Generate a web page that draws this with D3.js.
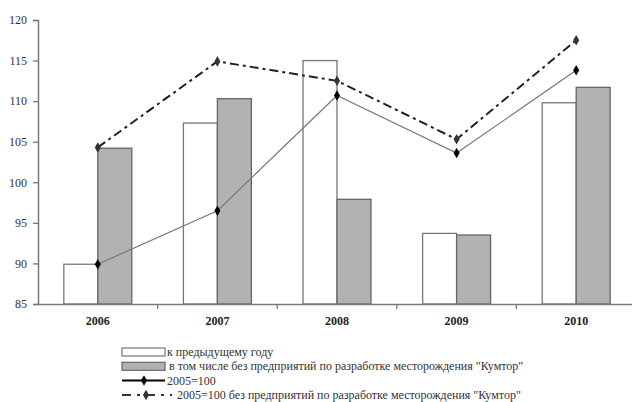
<!DOCTYPE html>
<html>
<head>
<meta charset="utf-8">
<script src="https://cdn.jsdelivr.net/npm/d3@7"></script>
<style>
  body { margin: 0; background: #fff; }
</style>
</head>
<body>
<div id="chart"></div>
<script>
const years = ['2006', '2007', '2008', '2009', '2010'];
const prevYear = [89.9, 107.3, 115.0, 93.7, 109.8];
const prevYearExKumtor = [104.2, 110.3, 97.9, 93.5, 111.7];
const base2005 = [89.9, 96.5, 110.7, 103.6, 113.8];
const base2005ExKumtor = [104.3, 114.9, 112.5, 105.3, 117.5];
const yTicks = [85, 90, 95, 100, 105, 110, 115, 120];
const legendLabels = [
  'к предыдущему году',
  'в том числе без предприятий по разработке месторождения "Кумтор"',
  '2005=100',
  '2005=100 без предприятий по разработке месторождения "Кумтор"'
];

const FONT = '"Times New Roman", "Liberation Serif", "DejaVu Serif", serif';
const width = 632;
const height = 402;
const margin = { top: 20, right: -4, bottom: 98, left: 38 };

const svg = d3.select('#chart')
  .append('svg')
  .attr('width', width)
  .attr('height', height)
  .style('font-family', FONT);

const x = d3.scaleBand().domain(years).range([margin.left, width - margin.right]).padding(0);
const x1 = d3.scaleBand().domain(['a', 'b']).range([0, x.bandwidth()]).paddingInner(0).paddingOuter(0.76);
const y = d3.scaleLinear().domain([85, 120]).range([height - margin.bottom, margin.top]);

const barData = years.map((yr, i) => ({ yr, a: prevYear[i], b: prevYearExKumtor[i] }));

// bars
const groups = svg.append('g').selectAll('g').data(barData).join('g')
  .attr('transform', d => `translate(${x(d.yr)},0)`);

groups.append('rect')
  .attr('x', x1('a'))
  .attr('y', d => y(d.a))
  .attr('width', x1.bandwidth())
  .attr('height', d => y(85) - y(d.a))
  .attr('fill', '#fff')
  .attr('stroke', '#777')
  .attr('stroke-width', 1.3);

groups.append('rect')
  .attr('x', x1('b'))
  .attr('y', d => y(d.b))
  .attr('width', x1.bandwidth())
  .attr('height', d => y(85) - y(d.b))
  .attr('fill', '#b2b2b2')
  .attr('stroke', '#666')
  .attr('stroke-width', 1.3);

// axes
const yAxis = g => g
  .attr('transform', `translate(${margin.left},0)`)
  .call(d3.axisLeft(y).tickValues(yTicks).tickSize(5).tickPadding(6))
  .attr('font-family', null)
  .attr('font-size', 12)
  .call(g => g.select('.domain').attr('stroke', '#777').attr('stroke-width', 1.5))
  .call(g => g.selectAll('.tick line').attr('stroke', '#777').attr('stroke-width', 1.3))
  .call(g => g.selectAll('.tick text').attr('fill', '#333').style('font-family', FONT));

const xAxis = g => g
  .attr('transform', `translate(0,${y(85)})`)
  .call(d3.axisBottom(x).tickSize(0).tickPadding(12))
  .attr('font-family', null)
  .attr('font-size', 12)
  .attr('font-weight', 'bold')
  .call(g => g.select('.domain').attr('stroke', '#777').attr('stroke-width', 1.5))
  .call(g => g.selectAll('.tick text').attr('fill', '#222').style('font-family', FONT));

svg.append('g').call(xAxis);
svg.append('g').call(yAxis);

// category separator ticks
svg.append('g').selectAll('line').data(years.slice(1)).join('line')
  .attr('x1', d => x(d)).attr('x2', d => x(d))
  .attr('y1', y(85)).attr('y2', y(85) + 5)
  .attr('stroke', '#777').attr('stroke-width', 1.3);

// lines
const cx = (d, i) => x(years[i]) + x.bandwidth() / 2;
const line = d3.line().x(cx).y(d => y(d));
const diamond = d3.symbol().type(d3.symbolDiamond).size(32);

svg.append('path')
  .datum(base2005)
  .attr('d', line)
  .attr('fill', 'none')
  .attr('stroke', '#777')
  .attr('stroke-width', 1.2);

svg.append('path')
  .datum(base2005ExKumtor)
  .attr('d', line)
  .attr('fill', 'none')
  .attr('stroke', '#222')
  .attr('stroke-width', 2)
  .attr('stroke-dasharray', '9,4,3,4');

svg.append('g').selectAll('path').data(base2005).join('path')
  .attr('d', diamond)
  .attr('transform', (d, i) => `translate(${cx(d, i)},${y(d)})`)
  .attr('fill', '#000');

svg.append('g').selectAll('path').data(base2005ExKumtor).join('path')
  .attr('d', diamond)
  .attr('transform', (d, i) => `translate(${cx(d, i)},${y(d)})`)
  .attr('fill', '#333');

// legend
const legend = svg.append('g').attr('transform', 'translate(122,352)');
const rowH = 14.3;

legend.append('rect').attr('x', 0).attr('y', -4).attr('width', 43).attr('height', 8)
  .attr('fill', '#fff').attr('stroke', '#777').attr('stroke-width', 1.2);
legend.append('rect').attr('x', 0).attr('y', rowH - 4).attr('width', 43).attr('height', 8)
  .attr('fill', '#b2b2b2').attr('stroke', '#666').attr('stroke-width', 1.2);
legend.append('line').attr('x1', 0).attr('x2', 43).attr('y1', rowH * 2).attr('y2', rowH * 2)
  .attr('stroke', '#000').attr('stroke-width', 2);
legend.append('path').attr('d', diamond).attr('transform', `translate(22,${rowH * 2})`).attr('fill', '#000');
legend.append('line').attr('x1', 0).attr('x2', 50).attr('y1', rowH * 3).attr('y2', rowH * 3)
  .attr('stroke', '#333').attr('stroke-width', 2).attr('stroke-dasharray', '9,6,3,6');
legend.append('path').attr('d', diamond).attr('transform', `translate(24,${rowH * 3})`).attr('fill', '#333');

legend.selectAll('text').data(legendLabels).join('text')
  .attr('x', (d, i) => [45, 47, 45, 55][i])
  .attr('y', (d, i) => i * rowH + 4)
  .attr('font-size', 12)
  .attr('fill', '#333')
  .style('font-family', FONT)
  .text(d => d);
</script>
</body>
</html>
